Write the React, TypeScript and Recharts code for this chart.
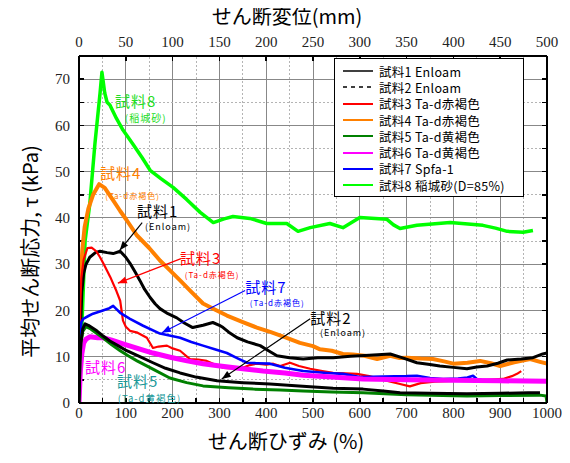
import React from 'react';
import {
  LineChart,
  Line,
  XAxis,
  YAxis,
  Legend,
  ReferenceDot,
  ReferenceLine,
  Label,
} from 'recharts';

// Axis ticks
const strainTicks = [0, 50, 100, 150, 200, 250, 300, 350, 400, 450, 500, 550, 600, 650, 700, 750, 800, 850, 900, 950, 1000];
const dispTicks = [0, 100, 200, 300, 400, 500, 600, 700, 800, 900, 1000];
const stressTicks = [0, 5, 10, 15, 20, 25, 30, 35, 40, 45, 50, 55, 60, 65, 70, 75];
const X_MAX = 1000;
const Y_MAX = 75;

// [shear strain (%), mean shear stress (kPa)]
const sample1: [number, number][] = [
  [0, 0], [3, 15], [6, 24], [10, 28], [15, 30], [23, 31.5], [35, 32.5], [45, 32.8], [60, 32.5], [73, 32.3],
  [88, 32.8], [100, 31.5], [109, 30.2], [120, 28.3], [130, 26.5], [140, 24.6], [152, 22.8], [163, 21.4],
  [173, 20.4], [190, 19.3], [209, 18.4], [225, 17.3], [243, 16.3], [265, 16.8], [286, 17.4], [300, 16.8],
  [308, 16.3], [320, 15.3], [338, 14.1], [360, 13.2], [387, 12.4], [405, 11.3], [423, 10.2], [450, 9.8],
  [479, 9.5], [510, 9.8], [543, 9.8], [580, 10.1], [620, 10.3], [665, 10.6], [690, 9.8], [722, 8.7],
  [750, 8.3], [771, 8.0], [800, 7.7], [829, 7.4], [850, 7.8], [872, 8.0], [895, 8.6], [915, 9.3],
  [945, 9.5], [970, 9.8], [991, 10.6], [1000, 10.8],
];
const sample2: [number, number][] = [
  [0, 0], [2, 9], [4, 13], [8, 16], [13, 17.1], [20, 16.8], [38, 15.6], [50, 14.6], [66, 13.4], [85, 12.3],
  [102, 11.3], [130, 10], [158, 8.7], [185, 7.5], [216, 6.5], [250, 5.6], [295, 4.8], [350, 4.4], [408, 4.1],
  [470, 3.7], [543, 3.2], [607, 3.0], [650, 2.6], [686, 2.2], [750, 2.1], [829, 2.0], [900, 2.1], [960, 2.2],
  [985, 2.2],
];
const sample3: [number, number][] = [
  [0, 0], [1, 12], [3, 22], [5, 27], [10, 31], [18, 33.5], [27, 33.6], [37, 32.8], [45, 31.5], [53, 30],
  [60, 28.6], [67, 27.2], [73, 25.8], [80, 24.2], [88, 22.1], [94, 17.8], [100, 16.5], [109, 15.6],
  [125, 15.2], [145, 14.1], [158, 11.9], [170, 12.2], [188, 12.4], [200, 11.8], [216, 11.3], [237, 9.5],
  [255, 9.4], [273, 9.1], [290, 8.3], [308, 7.6], [330, 7.5], [350, 7.6], [365, 8.2], [380, 8.5], [400, 8.3],
  [415, 8.5], [430, 8.0], [451, 8.7], [470, 8.0], [494, 7.4], [520, 6.9], [543, 6.5], [570, 6.4], [594, 6.3],
  [620, 5.8], [650, 5.0], [686, 4.1], [707, 3.6], [730, 4.3], [760, 4.6], [800, 4.8], [829, 4.8], [870, 5.0],
  [906, 5.2], [925, 5.8], [936, 6.3], [945, 6.9],
];
const sample4: [number, number][] = [
  [0, 0], [1, 15], [3, 25], [7, 33], [12, 38], [20, 42], [30, 45], [43, 47.3], [55, 46.5], [73, 43.8],
  [88, 41.5], [102, 39.5], [124, 36.2], [150, 33.5], [173, 30.8], [195, 28.6], [216, 26.5], [240, 24],
  [265, 21.5], [290, 20.2], [316, 18.9], [350, 17.5], [380, 16.3], [410, 15.3], [444, 14.1], [472, 13],
  [500, 12.3], [515, 11.6], [540, 11.3], [564, 10.6], [585, 10.5], [610, 10.2], [637, 9.5], [665, 10.2],
  [685, 9.7], [701, 9.8], [730, 9.6], [756, 9.5], [780, 9.0], [800, 8.5], [830, 8.7], [857, 9.1], [880, 8.6],
  [900, 8], [930, 8.8], [964, 9.5], [985, 8.9], [1000, 8.5],
];
const sample5: [number, number][] = [
  [0, 0], [2, 9], [4, 13], [8, 15.5], [15, 16.5], [25, 16], [51, 14.1], [70, 12.6], [88, 11.3], [105, 10.2],
  [124, 9.1], [160, 7.2], [194, 5.4], [230, 4.4], [265, 3.7], [320, 3.3], [372, 3.0], [430, 2.8], [479, 2.6],
  [540, 2.4], [607, 2.2], [700, 1.8], [829, 1.5], [900, 1.6], [985, 1.7], [998, 1.5], [1000, 0],
];
const sample6: [number, number][] = [
  [0, 0], [2, 5], [3, 7], [6, 10.6], [10, 13], [15, 13.8], [23, 14.3], [40, 14.1], [51, 14.1], [70, 13.6],
  [94, 12.8], [125, 11.8], [158, 10.8], [195, 9.9], [231, 9.1], [265, 8.5], [301, 8], [350, 7.4], [393, 6.9],
  [440, 6.5], [479, 6.0], [540, 5.6], [607, 5.2], [700, 5.0], [800, 4.9], [900, 4.8], [1000, 4.7],
];
const sample7: [number, number][] = [
  [0, 0], [1, 8], [2, 14], [5, 17.5], [9, 18.2], [20, 18.8], [30, 19.3], [51, 20], [65, 20.5], [73, 21],
  [80, 20.3], [88, 19.5], [109, 18.2], [137, 16.7], [173, 15], [216, 14.1], [240, 13.2], [265, 12.4],
  [290, 11.6], [316, 10.8], [340, 9.6], [359, 8.7], [380, 8.6], [408, 8.5], [440, 7.6], [479, 6.9],
  [530, 6.5], [564, 6.3], [600, 5.6], [650, 5.7], [700, 5.8], [722, 5.9], [750, 5.4], [778, 5.2], [810, 5.3],
  [830, 5.5], [842, 5.9], [850, 5.2], [860, 5.0],
];
const sample8: [number, number][] = [
  [0, 0], [4, 11], [8, 21.5], [13, 35], [23, 43], [34, 56], [45, 67], [49, 71.5], [55, 67], [60, 65],
  [66, 64.4], [80, 61.5], [94, 59], [115, 56], [135, 53], [152, 50.3], [175, 48.5], [201, 46.6], [230, 44],
  [259, 41.2], [287, 39], [310, 39.8], [329, 40.3], [365, 39.9], [401, 38.8], [444, 38.8], [468, 37.1],
  [494, 37.9], [536, 38.8], [564, 37.9], [600, 40.1], [658, 39.7], [672, 38.5], [686, 37.7], [722, 38.4],
  [793, 39], [863, 38.4], [890, 37.8], [915, 37.1], [949, 36.9], [970, 37.3],
];

const toPoints = (pairs: [number, number][]) => pairs.map(([x, y]) => ({ x, y }));

// legend order; points built once so props stay stable between renders
const series = [
  { key: 's1', name: '試料1 Enloam', color: '#000000', width: 3, dashed: false, points: toPoints(sample1) },
  { key: 's2', name: '試料2 Enloam', color: '#000000', width: 3, dashed: true, points: toPoints(sample2) },
  { key: 's3', name: '試料3 Ta-d赤褐色', color: '#ff0000', width: 2.2, dashed: false, points: toPoints(sample3) },
  { key: 's4', name: '試料4 Ta-d赤褐色', color: '#ff8000', width: 4, dashed: false, points: toPoints(sample4) },
  { key: 's5', name: '試料5 Ta-d黄褐色', color: '#008000', width: 3, dashed: false, points: toPoints(sample5) },
  { key: 's6', name: '試料6 Ta-d黄褐色', color: '#ff00ff', width: 5, dashed: false, points: toPoints(sample6) },
  { key: 's7', name: '試料7 Spfa-1', color: '#0000ff', width: 2.6, dashed: false, points: toPoints(sample7) },
  { key: 's8', name: '試料8 稲城砂(D=85%)', color: '#00ff00', width: 3.5, dashed: false, points: toPoints(sample8) },
];
const drawOrder = ['s8', 's4', 's1', 's3', 's7', 's6', 's5', 's2'];
const drawnSeries = drawOrder.map((k) => series.find((s) => s.key === k)!);

const JP = '"Noto Sans CJK JP", "Noto Sans", sans-serif';
const SERIF = 'Liberation Serif';

const notes = [
  { x: 77, y: 63.9, text: '試料8', size: 15, color: '#22dd22' },
  { x: 98, y: 60.8, text: '(稲城砂)', size: 10, color: '#22dd22' },
  { x: 45, y: 48.5, text: '試料4', size: 15, color: '#ff8000' },
  { x: 56, y: 44.2, text: '(Ta-d赤褐色)', size: 8, color: '#ff8000' },
  { x: 124, y: 40.1, text: '試料1', size: 15, color: '#000000' },
  { x: 141, y: 37.3, text: '(Enloam)', size: 9, color: '#000000' },
  { x: 216, y: 30.1, text: '試料3', size: 15, color: '#ff0000' },
  { x: 226, y: 27.1, text: '(Ta-d赤褐色)', size: 8, color: '#ff0000' },
  { x: 355, y: 23.8, text: '試料7', size: 15, color: '#0000ff' },
  { x: 365, y: 21.0, text: '(Ta-d赤褐色)', size: 8, color: '#0000ff' },
  { x: 494, y: 17.1, text: '試料2', size: 15, color: '#000000' },
  { x: 515, y: 14.5, text: '(Enloam)', size: 9, color: '#000000' },
  { x: 13, y: 6.5, text: '試料6', size: 15, color: '#ff00ff' },
  { x: 81, y: 3.4, text: '試料5', size: 15, color: '#1a9999' },
  { x: 83, y: 0.15, text: '(Ta-d黄褐色)', size: 9.5, color: '#1a9999' },
];
const noteShapes = notes.map((n) => (p: any) => (
  <text x={p.cx} y={p.cy} fill={n.color} fontSize={n.size} fontFamily={JP} letterSpacing={1}>
    {n.text}
  </text>
));

const arrows = [
  { seg: [{ x: 135, y: 39 }, { x: 87, y: 33 }], color: '#000000' },
  { seg: [{ x: 218, y: 31.2 }, { x: 83, y: 25.9 }], color: '#ff0000' },
  { seg: [{ x: 355, y: 24.3 }, { x: 177, y: 15.2 }], color: '#0000ff' },
  { seg: [{ x: 494, y: 18.2 }, { x: 305, y: 5.2 }], color: '#000000' },
];

const ArrowShape = (props: any) => {
  const { x1, y1, x2, y2, stroke } = props;
  const a = Math.atan2(y2 - y1, x2 - x1);
  const len = 9;
  const w = 3.5;
  const bx = x2 - len * Math.cos(a);
  const by = y2 - len * Math.sin(a);
  const pts = [
    `${x2},${y2}`,
    `${bx + w * Math.sin(a)},${by - w * Math.cos(a)}`,
    `${bx - w * Math.sin(a)},${by + w * Math.cos(a)}`,
  ].join(' ');
  return (
    <g>
      <line x1={x1} y1={y1} x2={x2} y2={y2} stroke={stroke} strokeWidth={1.2} />
      <polygon points={pts} fill={stroke} />
    </g>
  );
};

// grid line across the plot plus 5px inward tick marks at both ends
const TICK = 5;
const makeGridShape = (grid: 'major' | 'minor' | 'none', tickStart: boolean, tickEnd: boolean) => (p: any) => {
  const { x1, y1, x2, y2 } = p;
  const vertical = Math.abs(x1 - x2) < 0.5;
  const lo = vertical ? { x: x1, y: Math.max(y1, y2) } : { x: Math.min(x1, x2), y: y1 };
  const hi = vertical ? { x: x1, y: Math.min(y1, y2) } : { x: Math.max(x1, x2), y: y1 };
  return (
    <g shapeRendering="crispEdges">
      {grid !== 'none' && (
        <line
          x1={lo.x}
          y1={lo.y}
          x2={hi.x}
          y2={hi.y}
          stroke={grid === 'major' ? '#888888' : '#b4b4b4'}
          strokeWidth={1}
          strokeDasharray={grid === 'minor' ? '2 2' : undefined}
        />
      )}
      {tickStart && (vertical
        ? <line x1={lo.x} y1={lo.y} x2={lo.x} y2={lo.y - TICK} stroke="#000" strokeWidth={1.5} />
        : <line x1={lo.x} y1={lo.y} x2={lo.x + TICK} y2={lo.y} stroke="#000" strokeWidth={1.5} />)}
      {tickEnd && (vertical
        ? <line x1={hi.x} y1={hi.y} x2={hi.x} y2={hi.y + TICK} stroke="#000" strokeWidth={1.5} />
        : <line x1={hi.x} y1={hi.y} x2={hi.x - TICK} y2={hi.y} stroke="#000" strokeWidth={1.5} />)}
    </g>
  );
};

const gridKind = (v: number, max: number, major: number) =>
  v === 0 || v === max ? 'none' : v % major === 0 ? 'major' : 'minor';

const xGrid = strainTicks.map((v) => ({
  v,
  seg: [{ x: v, y: 0 }, { x: v, y: Y_MAX }],
  shape: makeGridShape(gridKind(v, X_MAX, 100), true, v % 100 === 0),
}));
const yGrid = stressTicks.map((v) => ({
  v,
  seg: [{ x: 0, y: v }, { x: X_MAX, y: v }],
  shape: makeGridShape(v === Y_MAX ? 'none' : gridKind(v, Y_MAX, 10), true, true),
}));

// serif tick labels only; marks come from the grid shapes
const makeTick = (side: 'bottom' | 'top' | 'left', step: number, scale = 1) => (p: any) => {
  const v = p.payload.value;
  if (v % step !== 0) return <g />;
  const dy = side === 'bottom' ? '0.75em' : side === 'left' ? '0.35em' : '0';
  return (
    <text x={p.x} y={p.y} dy={dy} textAnchor={side === 'left' ? 'end' : 'middle'} fontFamily={SERIF} fontSize={15} fill="#222">
      {v * scale}
    </text>
  );
};
const bottomTick = makeTick('bottom', 100);
const topTick = makeTick('top', 100, 0.5);
const leftTick = makeTick('left', 10);

const renderLegend = () => (
  <div
    style={{
      border: '1px solid #000',
      background: '#fff',
      padding: '4px 0 3px 0',
      fontFamily: JP,
      fontSize: 12.5,
      color: '#000',
    }}
  >
    {series.map((s) => (
      <div key={s.key} style={{ display: 'flex', alignItems: 'center', height: 16.3, lineHeight: '15px' }}>
        <svg width={44} height={10} style={{ flex: 'none' }}>
          <line
            x1={8}
            y1={5}
            x2={38}
            y2={5}
            stroke={s.color}
            strokeWidth={s.color === '#000000' ? 1.5 : 2}
            strokeDasharray={s.dashed ? '4 4' : undefined}
          />
        </svg>
        <span style={{ whiteSpace: 'nowrap', letterSpacing: 0.3 }}>{s.name}</span>
      </div>
    ))}
  </div>
);
const legendStyle = { left: 334, top: 58, width: 190 };

const yTitle = ({ viewBox }: any) => {
  const cx = viewBox.x + 9;
  const cy = viewBox.y + viewBox.height / 2 + 22;
  return (
    <text x={cx} y={cy} transform={`rotate(-90 ${cx} ${cy})`} textAnchor="middle" fontFamily={JP} fontSize={20} fill="#000">
      平均せん断応力, τ (kPa)
    </text>
  );
};

const topTitle = ({ viewBox }: any) => (
  <text x={viewBox.x + viewBox.width / 2 - 26} y={viewBox.y - 2} textAnchor="middle" fontFamily={JP} fontSize={20} fill="#000">
    せん断変位(mm)
  </text>
);

const bottomTitle = ({ viewBox }: any) => (
  <text x={viewBox.x + viewBox.width / 2 - 27} y={viewBox.y + viewBox.height + 16} textAnchor="middle" fontFamily={JP} fontSize={20} fill="#000">
    せん断ひずみ (%)
  </text>
);

const axisLine = { stroke: '#000', strokeWidth: 2 };
const chartMargin = { top: 26, right: 13, bottom: 30, left: 29 };
const xDomain = [0, X_MAX];
const yDomain = [0, Y_MAX];

export default function App() {
  return (
    <div style={{ position: 'relative', width: 570, height: 463, margin: -8, background: '#fff' }}>
      <LineChart width={570} height={463} margin={chartMargin}>
        {xGrid.map((g) => (
          <ReferenceLine key={`gx-${g.v}`} segment={g.seg} ifOverflow="visible" shape={g.shape} />
        ))}
        {yGrid.map((g) => (
          <ReferenceLine key={`gy-${g.v}`} segment={g.seg} ifOverflow="visible" shape={g.shape} />
        ))}
        <XAxis
          dataKey="x"
          type="number"
          domain={xDomain}
          ticks={strainTicks}
          interval={0}
          height={30}
          tickSize={0}
          tickMargin={4}
          axisLine={axisLine}
          tickLine={false}
          tick={bottomTick}
          allowDataOverflow
        >
          <Label content={bottomTitle} />
        </XAxis>
        <XAxis
          xAxisId="top"
          orientation="top"
          dataKey="x"
          type="number"
          domain={xDomain}
          ticks={dispTicks}
          interval={0}
          height={30}
          tickSize={0}
          tickMargin={9}
          axisLine={axisLine}
          tickLine={false}
          tick={topTick}
          allowDataOverflow
        >
          <Label content={topTitle} />
        </XAxis>
        <YAxis
          type="number"
          domain={yDomain}
          ticks={stressTicks}
          interval={0}
          width={50}
          tickSize={0}
          tickMargin={9}
          axisLine={axisLine}
          tickLine={false}
          tick={leftTick}
          allowDataOverflow
        >
          <Label content={yTitle} />
        </YAxis>
        <YAxis
          yAxisId="right"
          orientation="right"
          type="number"
          domain={yDomain}
          ticks={stressTicks}
          interval={0}
          width={10}
          tick={false}
          tickLine={false}
          axisLine={axisLine}
          allowDataOverflow
        />
        {drawnSeries.map((s) => (
          <Line
            key={s.key}
            data={s.points}
            dataKey="y"
            name={s.name}
            type="linear"
            stroke={s.color}
            strokeWidth={s.width}
            strokeLinejoin="round"
            dot={false}
            activeDot={false}
            isAnimationActive={false}
          />
        ))}
        {arrows.map((a, i) => (
          <ReferenceLine key={`arrow-${i}`} segment={a.seg} stroke={a.color} shape={ArrowShape} ifOverflow="visible" />
        ))}
        {notes.map((n, i) => (
          <ReferenceDot key={`note-${i}`} x={n.x} y={n.y} r={0} ifOverflow="visible" shape={noteShapes[i]} />
        ))}
        <Legend content={renderLegend} layout="vertical" align="center" verticalAlign="middle" wrapperStyle={legendStyle} />
      </LineChart>
    </div>
  );
}
